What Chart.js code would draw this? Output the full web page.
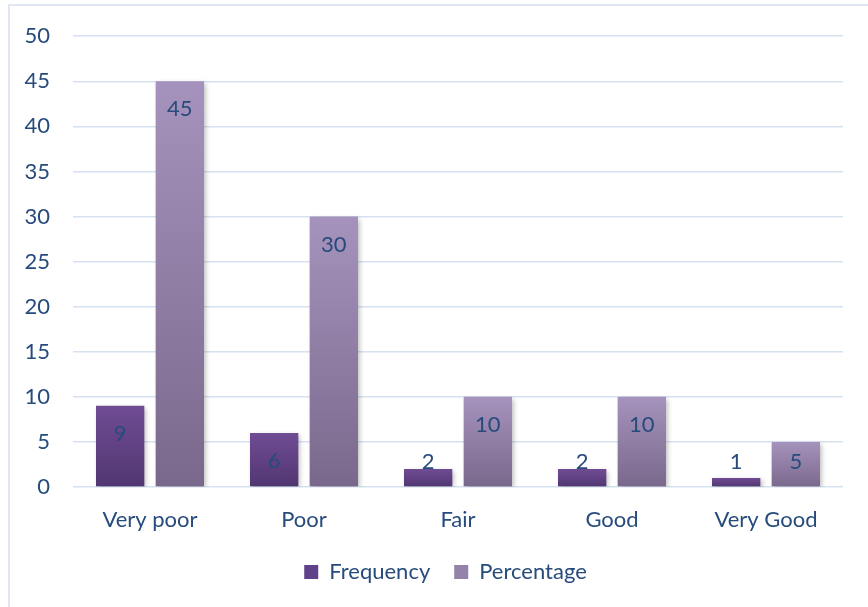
<!DOCTYPE html>
<html>
<head>
<meta charset="utf-8">
<script src="https://cdn.jsdelivr.net/npm/chart.js@4/dist/chart.umd.min.js"></script>
<style>
  html, body { margin: 0; padding: 0; background: #ffffff; }
  #wrap { position: relative; width: 868px; height: 607px; }
  canvas { display: block; }
</style>
</head>
<body>
<div id="wrap"><canvas id="c" width="868" height="607"></canvas></div>
<script>
const categories = ["Very poor", "Poor", "Fair", "Good", "Very Good"];
const frequency = [9, 6, 2, 2, 1];
const percentage = [45, 30, 10, 10, 5];
const yTicks = [0, 5, 10, 15, 20, 25, 30, 35, 40, 45, 50];

const TEXT = "#264B7C";
const FONT = "Lato, 'Open Sans', sans-serif";
const FS = 22;

function barGradient(top, bottom) {
  return function (ctx) {
    const chart = ctx.chart;
    const ys = chart.scales && chart.scales.y;
    if (ctx.dataIndex === undefined || !ys || !chart.chartArea) return bottom;
    const v = ctx.dataset.data[ctx.dataIndex];
    const y1 = ys.getPixelForValue(v);
    const y0 = ys.getPixelForValue(0);
    if (!isFinite(y1) || !isFinite(y0) || y1 === y0) return bottom;
    const g = chart.ctx.createLinearGradient(0, y1, 0, y0);
    g.addColorStop(0, top);
    g.addColorStop(1, bottom);
    return g;
  };
}

const borderPlugin = {
  id: "outerBorder",
  beforeDraw(chart) {
    const c = chart.ctx;
    c.save();
    c.strokeStyle = "#D6E0EE";
    c.lineWidth = 1.5;
    c.beginPath();
    c.moveTo(9, 607);
    c.lineTo(9, 5);
    c.lineTo(868, 5);
    c.stroke();
    c.restore();
  }
};

const legendShift = {
  id: "legendShift",
  afterLayout(chart) {
    const l = chart.legend;
    if (l) { l.left = 48; l.width = l.right - l.left; }
  }
};

const shadowPlugin = {
  id: "barShadow",
  beforeDatasetDraw(chart) {
    const c = chart.ctx;
    c.save();
    c.shadowColor = "rgba(0,0,0,0.28)";
    c.shadowBlur = 5;
    c.shadowOffsetX = 2;
    c.shadowOffsetY = 2;
  },
  afterDatasetDraw(chart) {
    chart.ctx.restore();
  }
};

const labelPlugin = {
  id: "valueLabels",
  afterDatasetsDraw(chart) {
    const c = chart.ctx;
    const ys = chart.scales.y;
    const base = ys.getPixelForValue(0);
    c.save();
    c.fillStyle = TEXT;
    c.font = FS + "px " + FONT;
    c.textAlign = "center";
    c.textBaseline = "middle";
    chart.data.datasets.forEach((ds, di) => {
      const meta = chart.getDatasetMeta(di);
      meta.data.forEach((el, i) => {
        const y = Math.min(el.y + 28, base - 25);
        c.fillText(String(ds.data[i]), el.x, y);
      });
    });
    c.restore();
  }
};

new Chart(document.getElementById("c"), {
  type: "bar",
  data: {
    labels: categories,
    datasets: [
      {
        label: "Frequency",
        data: frequency,
        backgroundColor: barGradient("#704C94", "#513671"),
        categoryPercentage: 0.775,
        barPercentage: 0.81
      },
      {
        label: "Percentage",
        data: percentage,
        backgroundColor: barGradient("#A593BD", "#7A688C"),
        categoryPercentage: 0.775,
        barPercentage: 0.81
      }
    ]
  },
  options: {
    responsive: false,
    animation: false,
    devicePixelRatio: 1,
    layout: { padding: { top: 34, right: 25, bottom: 14, left: 0 } },
    plugins: {
      tooltip: { enabled: false },
      legend: {
        position: "bottom",
        labels: {
          color: TEXT,
          font: { family: FONT, size: FS },
          boxWidth: 14,
          boxHeight: 14,
          padding: 24,
          generateLabels(chart) {
            const cols = ["#60428A", "#9383AA"];
            return chart.data.datasets.map((ds, i) => ({
              text: ds.label,
              fillStyle: cols[i],
              strokeStyle: cols[i],
              lineWidth: 0,
              fontColor: TEXT,
              hidden: false,
              datasetIndex: i
            }));
          }
        }
      }
    },
    scales: {
      x: {
        grid: { display: false, drawTicks: false },
        border: { display: false },
        ticks: { color: TEXT, font: { family: FONT, size: FS }, padding: 20, maxRotation: 0 },
        afterFit(s) { s.height = 50; }
      },
      y: {
        min: 0,
        max: 50,
        afterBuildTicks(s) { s.ticks = yTicks.map(v => ({ value: v })); },
        grid: { color: "#D6E2F1", lineWidth: 1.5, drawTicks: false },
        border: { display: false },
        ticks: { color: TEXT, font: { family: FONT, size: FS }, padding: 23 },
        afterFit(s) { s.width = 73; }
      }
    }
  },
  plugins: [borderPlugin, legendShift, shadowPlugin, labelPlugin]
});
</script>
</body>
</html>
